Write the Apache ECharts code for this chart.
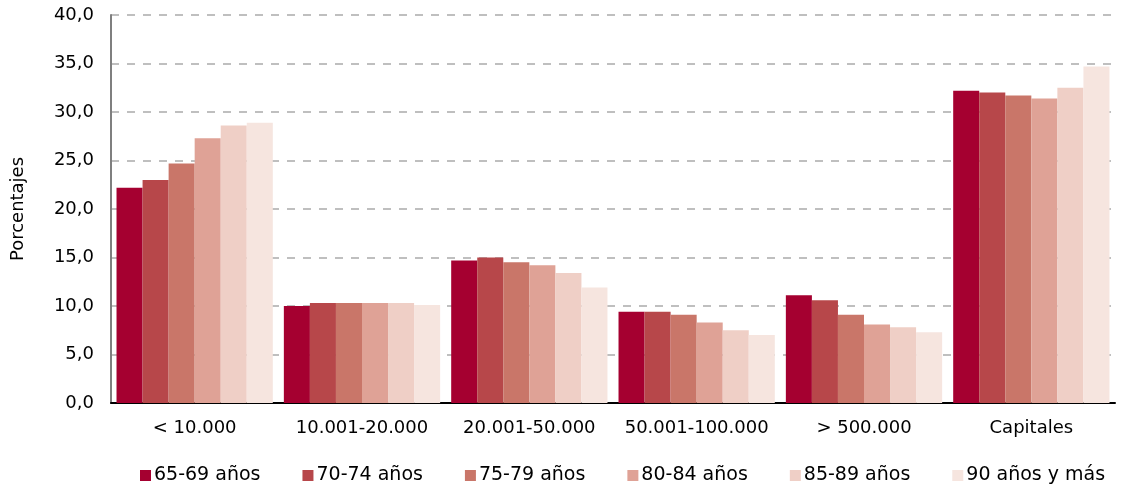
<!DOCTYPE html>
<html>
<head>
<meta charset="utf-8">
<script src="https://cdn.jsdelivr.net/npm/echarts@6/dist/echarts.min.js"></script>
<style>html,body{margin:0;padding:0;background:#fff}#c{width:1121px;height:490px}</style>
</head>
<body>
<div id="c"></div>
<script>
const categories = ['< 10.000', '10.001-20.000', '20.001-50.000', '50.001-100.000', '> 500.000', 'Capitales'];
const seriesNames = ['65-69 años', '70-74 años', '75-79 años', '80-84 años', '85-89 años', '90 años y más'];
const s6569 = [22.2, 10.0, 14.7, 9.4, 11.1, 32.2];
const s7074 = [23.0, 10.3, 15.0, 9.4, 10.6, 32.0];
const s7579 = [24.7, 10.3, 14.5, 9.1, 9.1, 31.7];
const s8084 = [27.3, 10.3, 14.2, 8.3, 8.1, 31.4];
const s8589 = [28.6, 10.3, 13.4, 7.5, 7.8, 32.5];
const s90 = [28.9, 10.1, 11.9, 7.0, 7.3, 34.7];
const yTicks = [0, 5, 10, 15, 20, 25, 30, 35, 40];

const colors = ['#A50030', '#B7474A', '#C97669', '#DFA296', '#EFCFC6', '#F6E5DF'];
const data = [s6569, s7074, s7579, s8084, s8589, s90];
const font = 'DejaVu Sans';

const chart = echarts.init(document.getElementById('c'));
chart.setOption({
  animation: false,
  color: colors,
  grid: { left: 111, right: 6, top: 15, bottom: 87, containLabel: false },
  legend: {
    bottom: 0,
    left: 135,
    itemWidth: 11,
    itemHeight: 11,
    itemGap: 42,
    icon: 'rect',
    textStyle: { fontFamily: font, fontSize: 19, color: '#000', padding: [0, 0, 0, -2] },
    data: seriesNames
  },
  xAxis: {
    type: 'category',
    data: categories,
    axisLine: { lineStyle: { color: '#000', width: 2 } },
    axisTick: { show: false },
    axisLabel: { fontFamily: font, fontSize: 18, color: '#000', margin: 16, interval: 0 }
  },
  yAxis: {
    type: 'value',
    min: yTicks[0],
    max: yTicks[yTicks.length - 1],
    interval: 5,
    name: 'Porcentajes',
    nameLocation: 'middle',
    nameGap: 84,
    nameTextStyle: { fontFamily: font, fontSize: 18, color: '#000' },
    axisLine: { show: true, lineStyle: { color: '#7f7f7f', width: 2 } },
    axisTick: { show: false },
    axisLabel: {
      fontFamily: font, fontSize: 18, color: '#000', margin: 17,
      formatter: v => v.toFixed(1).replace('.', ',')
    },
    splitLine: { lineStyle: { color: '#aaaaaa', type: [8, 8], width: 1.5 } }
  },
  series: seriesNames.map((n, i) => ({
    name: n,
    type: 'bar',
    data: data[i],
    barGap: '0%',
    barCategoryGap: '6.6%'
  }))
});
</script>
</body>
</html>
